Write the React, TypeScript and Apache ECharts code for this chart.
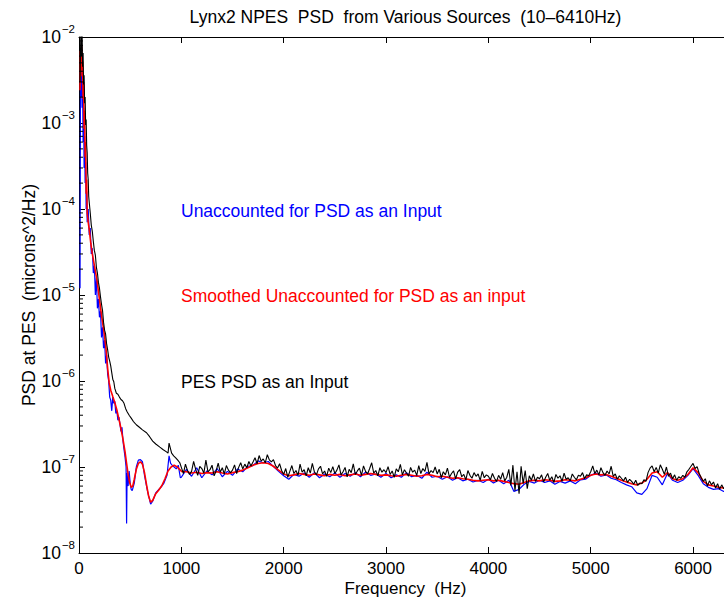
import React, { useEffect, useRef } from "react";
import * as echarts from "echarts";

// ---------- texts ----------
const titleText = "Lynx2 NPES  PSD  from Various Sources  (10\u20136410Hz)";
const xAxisTitle = "Frequency  (Hz)";
const yAxisTitle = "PSD at PES  (microns^2/Hz)";
const blueLabel = "Unaccounted for PSD as an Input";
const redLabel = "Smoothed Unaccounted for PSD as an input";
const blackLabel = "PES PSD as an Input";

// ---------- axes ----------
const xMin = 0;
const xMax = 6410;
const xInterval = 1000;
const yMin = 1e-8;
const yMax = 1e-2;
const minorMultipliers = [2, 3, 4, 5, 6, 7, 8, 9];
const minorDecades = [-8, -7, -6, -5, -4, -3];

// ---------- low-frequency part [Hz, microns^2/Hz] ----------
const blueLow: [number, number][] = [
  [10, 1.2e-5], [15, 4.5e-3], [20, 2.0e-3], [25, 5.0e-3], [30, 1.5e-3], [35, 3.0e-3],
  [40, 6.0e-4], [45, 1.5e-3], [50, 3.0e-4], [55, 7.0e-4], [60, 2.0e-4], [65, 3.5e-4],
  [70, 1.0e-4], [75, 1.6e-4], [80, 7.0e-5], [90, 1.0e-4], [100, 5.0e-5], [110, 6.0e-5],
  [120, 3.0e-5], [130, 3.5e-5], [140, 1.8e-5], [150, 2.2e-5], [160, 1.0e-5], [170, 1.6e-5],
  [180, 7.0e-6], [190, 9.0e-6], [200, 5.5e-6], [210, 6.5e-6], [220, 3.2e-6], [230, 4.2e-6],
  [240, 2.4e-6], [250, 3.0e-6], [260, 1.6e-6], [270, 2.0e-6], [280, 1.2e-6], [290, 1.0e-6],
  [300, 6.5e-7], [310, 6.0e-7], [320, 4.5e-7], [330, 6.5e-7], [340, 5.5e-7], [350, 5.8e-7],
  [360, 4.2e-7], [370, 4.5e-7], [380, 3.5e-7], [390, 3.8e-7], [400, 3.2e-7], [410, 2.6e-7],
  [420, 2.9e-7], [430, 2.0e-7], [440, 1.6e-7], [450, 1.3e-7], [460, 1.0e-7], [465, 2.2e-8],
  [470, 8.5e-8], [480, 6.0e-8], [490, 9.0e-8], [500, 6.5e-8], [510, 5.5e-8], [520, 5.3e-8],
  [540, 6.5e-8], [560, 1.0e-7], [580, 1.2e-7], [600, 1.22e-7], [620, 1.15e-7], [640, 8.0e-8],
  [670, 5.2e-8], [700, 3.7e-8], [720, 4.0e-8], [750, 5.0e-8], [780, 5.5e-8], [800, 5.8e-8],
  [830, 6.5e-8], [860, 8.0e-8], [880, 1.35e-7], [895, 1.1e-7], [910, 1.05e-7], [930, 1.0e-7],
  [950, 9.5e-8], [970, 1.05e-7], [990, 7.5e-8],
];

const redLow: [number, number][] = [
  [10, 2.4e-3], [15, 7.0e-3], [20, 5.0e-3], [25, 8.0e-3], [30, 3.5e-3], [35, 5.2e-3],
  [40, 1.9e-3], [45, 3.0e-3], [50, 8.5e-4], [55, 1.4e-3], [60, 4.0e-4], [65, 6.0e-4],
  [70, 1.5e-4], [75, 2.2e-4], [80, 9.0e-5], [90, 7.0e-5], [100, 5.8e-5], [115, 4.0e-5],
  [130, 3.0e-5], [145, 2.4e-5], [160, 1.9e-5], [175, 1.5e-5], [190, 1.1e-5], [205, 8.0e-6],
  [220, 5.8e-6], [235, 4.4e-6], [250, 3.3e-6], [265, 2.3e-6], [280, 1.4e-6], [295, 9.5e-7],
  [310, 7.8e-7], [330, 6.6e-7], [350, 5.6e-7], [370, 4.6e-7], [390, 3.6e-7], [410, 2.8e-7],
  [430, 2.1e-7], [450, 1.5e-7], [465, 1.1e-7], [480, 8.2e-8], [495, 6.6e-8], [510, 5.8e-8],
  [525, 6.0e-8], [540, 7.2e-8], [560, 9.4e-8], [580, 1.1e-7], [600, 1.15e-7], [620, 1.08e-7],
  [640, 8.6e-8], [660, 6.2e-8], [680, 4.6e-8], [700, 3.9e-8], [720, 4.1e-8], [750, 4.9e-8],
  [780, 5.4e-8], [810, 6.1e-8], [840, 7.3e-8], [870, 9.0e-8], [900, 1.0e-7], [930, 1.05e-7],
  [960, 1.0e-7], [990, 9.2e-8],
];

const blackLow: [number, number][] = [
  [10, 3.0e-3], [15, 7.0e-3], [20, 1.4e-2], [25, 6.0e-3], [30, 1.2e-2], [35, 4.5e-3],
  [40, 6.5e-3], [45, 2.8e-3], [50, 3.6e-3], [55, 1.7e-3], [60, 2.0e-3], [65, 9.5e-4],
  [70, 1.1e-3], [75, 5.5e-4], [80, 4.5e-4], [85, 2.6e-4], [90, 2.2e-4], [95, 1.4e-4],
  [100, 1.2e-4], [110, 9.0e-5], [120, 6.5e-5], [130, 5.5e-5], [140, 4.2e-5], [150, 3.3e-5],
  [160, 2.9e-5], [170, 2.1e-5], [180, 1.8e-5], [190, 1.4e-5], [200, 1.2e-5], [210, 9.5e-6],
  [220, 7.8e-6], [230, 6.6e-6], [240, 4.8e-6], [250, 3.9e-6], [260, 3.5e-6], [270, 2.7e-6],
  [280, 2.3e-6], [290, 1.9e-6], [300, 1.7e-6], [310, 1.5e-6], [320, 1.25e-6], [330, 1.05e-6],
  [340, 9.8e-7], [350, 8.2e-7], [365, 7.2e-7], [380, 7.0e-7], [395, 6.5e-7], [410, 6.1e-7],
  [425, 5.9e-7], [440, 5.5e-7], [455, 4.8e-7], [470, 4.4e-7], [490, 4.0e-7], [510, 3.7e-7],
  [530, 3.4e-7], [560, 3.1e-7], [590, 2.9e-7], [620, 2.7e-7], [660, 2.5e-7], [690, 2.25e-7],
  [720, 2.0e-7], [750, 1.85e-7], [790, 1.7e-7], [820, 1.6e-7], [855, 1.5e-7], [870, 1.45e-7],
  [880, 1.9e-7], [890, 1.7e-7], [905, 1.45e-7], [925, 1.35e-7], [945, 1.28e-7], [965, 1.2e-7],
  [985, 1.12e-7],
];

// ---------- noise-floor part, sampled from 1000 Hz ----------
const floorStartHz = 1000;
const blueRedStepHz = 50; // one row = 500 Hz (10 values)
const blackStepHz = 20; // one row = 500 Hz (25 values)

const redFloor = [
  8.9e-8, 8.8e-8, 8.5e-8, 8.7e-8, 8.4e-8, 8.6e-8, 8.5e-8, 8.8e-8, 8.5e-8, 8.3e-8,
  8.6e-8, 8.8e-8, 9.2e-8, 9.8e-8, 10.5e-8, 11.0e-8, 11.2e-8, 11.0e-8, 10.2e-8, 9.2e-8,
  8.3e-8, 7.9e-8, 8.1e-8, 8.4e-8, 8.2e-8, 8.0e-8, 8.3e-8, 8.1e-8, 7.9e-8, 8.2e-8,
  8.0e-8, 8.2e-8, 7.9e-8, 8.1e-8, 8.3e-8, 8.0e-8, 8.2e-8, 8.4e-8, 8.2e-8, 8.0e-8,
  8.1e-8, 7.9e-8, 7.8e-8, 8.0e-8, 8.2e-8, 8.0e-8, 7.8e-8, 7.9e-8, 8.2e-8, 8.0e-8,
  7.7e-8, 7.8e-8, 7.6e-8, 7.4e-8, 7.5e-8, 7.3e-8, 7.2e-8, 7.0e-8, 6.9e-8, 7.0e-8,
  7.1e-8, 6.9e-8, 7.0e-8, 6.8e-8, 6.6e-8, 6.4e-8, 6.3e-8, 6.6e-8, 6.9e-8, 7.0e-8,
  6.9e-8, 7.1e-8, 7.0e-8, 6.8e-8, 6.9e-8, 7.1e-8, 7.0e-8, 6.9e-8, 7.2e-8, 7.5e-8,
  8.0e-8, 8.3e-8, 8.1e-8, 8.2e-8, 7.8e-8, 7.4e-8, 7.0e-8, 6.7e-8, 6.4e-8, 6.2e-8,
  6.5e-8, 7.2e-8, 8.5e-8, 8.8e-8, 7.6e-8, 8.6e-8, 7.3e-8, 7.0e-8, 7.3e-8, 8.2e-8,
  9.8e-8, 8.6e-8, 6.8e-8, 6.2e-8, 6.0e-8, 5.8e-8, 5.7e-8, 5.5e-8, 5.4e-8,
];

const blueFloor = [
  7.6e-8, 9.4e-8, 7.8e-8, 9.8e-8, 7.5e-8, 9.0e-8, 8.1e-8, 9.6e-8, 7.7e-8, 8.9e-8,
  8.0e-8, 9.5e-8, 8.8e-8, 10.2e-8, 10.4e-8, 11.8e-8, 11.2e-8, 11.6e-8, 10.1e-8, 8.9e-8,
  7.9e-8, 7.2e-8, 8.2e-8, 7.8e-8, 8.5e-8, 7.6e-8, 8.6e-8, 7.5e-8, 8.3e-8, 7.7e-8,
  8.5e-8, 7.6e-8, 8.4e-8, 7.8e-8, 8.6e-8, 7.7e-8, 8.7e-8, 8.0e-8, 8.3e-8, 7.6e-8,
  8.4e-8, 7.5e-8, 8.1e-8, 7.6e-8, 8.6e-8, 7.7e-8, 8.0e-8, 7.4e-8, 8.7e-8, 7.6e-8,
  7.8e-8, 7.2e-8, 7.7e-8, 7.0e-8, 7.5e-8, 6.9e-8, 7.2e-8, 6.7e-8, 7.0e-8, 6.6e-8,
  7.2e-8, 6.5e-8, 7.0e-8, 6.4e-8, 7.0e-8, 5.2e-8, 5.5e-8, 6.3e-8, 6.8e-8, 6.5e-8,
  7.0e-8, 6.6e-8, 6.9e-8, 6.3e-8, 6.8e-8, 6.5e-8, 6.9e-8, 6.4e-8, 7.1e-8, 7.2e-8,
  8.0e-8, 8.5e-8, 7.8e-8, 8.1e-8, 7.4e-8, 7.1e-8, 6.6e-8, 6.2e-8, 5.9e-8, 5.0e-8,
  4.8e-8, 5.6e-8, 8.0e-8, 7.6e-8, 6.2e-8, 8.4e-8, 7.0e-8, 6.6e-8, 7.0e-8, 8.0e-8,
  9.6e-8, 8.0e-8, 6.4e-8, 5.8e-8, 5.5e-8, 5.6e-8, 5.2e-8, 5.3e-8, 5.1e-8,
];

const blackFloor = [
  // 1000-1480
  9.9e-8, 8.4e-8, 10.8e-8, 9.1e-8, 8.2e-8, 8.9e-8, 11.6e-8, 9.4e-8, 8.0e-8, 10.2e-8,
  9.6e-8, 8.5e-8, 12.0e-8, 8.8e-8, 9.3e-8, 10.5e-8, 7.9e-8, 9.0e-8, 11.1e-8, 8.7e-8,
  9.8e-8, 8.3e-8, 10.4e-8, 9.2e-8, 8.6e-8,
  // 1500-1980
  9.2e-8, 10.6e-8, 8.4e-8, 9.9e-8, 11.2e-8, 9.5e-8, 10.8e-8, 9.8e-8, 11.6e-8, 10.3e-8,
  11.4e-8, 12.8e-8, 10.9e-8, 13.6e-8, 11.7e-8, 12.4e-8, 11.2e-8, 13.9e-8, 12.1e-8, 11.5e-8,
  12.2e-8, 10.4e-8, 9.7e-8, 10.9e-8, 9.1e-8,
  // 2000-2480
  8.2e-8, 9.6e-8, 7.6e-8, 8.9e-8, 10.4e-8, 8.4e-8, 9.1e-8, 8.0e-8, 10.8e-8, 8.7e-8,
  9.3e-8, 7.9e-8, 9.8e-8, 8.5e-8, 11.0e-8, 8.8e-8, 8.1e-8, 9.5e-8, 10.2e-8, 8.3e-8,
  9.0e-8, 7.8e-8, 9.7e-8, 8.6e-8, 10.1e-8,
  // 2500-2980
  8.4e-8, 9.2e-8, 10.6e-8, 8.1e-8, 8.8e-8, 9.9e-8, 7.7e-8, 9.4e-8, 8.6e-8, 10.9e-8,
  8.2e-8, 9.0e-8, 9.7e-8, 8.0e-8, 10.3e-8, 8.9e-8, 8.3e-8, 9.6e-8, 11.2e-8, 8.5e-8,
  9.1e-8, 7.9e-8, 9.8e-8, 8.7e-8, 9.3e-8,
  // 3000-3480
  8.6e-8, 10.1e-8, 8.2e-8, 9.0e-8, 7.6e-8, 9.5e-8, 8.8e-8, 10.7e-8, 8.1e-8, 9.3e-8,
  8.5e-8, 7.8e-8, 9.9e-8, 8.7e-8, 9.2e-8, 8.0e-8, 10.4e-8, 8.4e-8, 9.6e-8, 8.9e-8,
  11.3e-8, 8.3e-8, 9.1e-8, 8.6e-8, 10.0e-8,
  // 3500-3980
  8.3e-8, 9.4e-8, 7.5e-8, 8.8e-8, 8.1e-8, 9.7e-8, 7.6e-8, 8.4e-8, 9.0e-8, 7.3e-8,
  8.7e-8, 9.3e-8, 7.7e-8, 8.2e-8, 7.1e-8, 9.1e-8, 8.0e-8, 7.4e-8, 8.6e-8, 7.8e-8,
  8.3e-8, 7.0e-8, 8.9e-8, 7.5e-8, 8.1e-8,
  // 4000-4480
  7.8e-8, 7.1e-8, 8.4e-8, 7.4e-8, 6.8e-8, 8.0e-8, 7.2e-8, 8.6e-8, 6.9e-8, 7.6e-8,
  9.4e-8, 6.1e-8, 10.5e-8, 5.3e-8, 8.8e-8, 4.9e-8, 10.2e-8, 6.4e-8, 9.1e-8, 5.6e-8,
  7.9e-8, 7.0e-8, 8.3e-8, 6.8e-8, 7.6e-8,
  // 4500-4980
  7.3e-8, 8.1e-8, 6.7e-8, 7.6e-8, 8.4e-8, 7.0e-8, 7.7e-8, 6.6e-8, 8.2e-8, 7.4e-8,
  7.9e-8, 6.8e-8, 8.5e-8, 7.2e-8, 7.5e-8, 6.9e-8, 8.3e-8, 7.6e-8, 7.1e-8, 8.0e-8,
  7.8e-8, 8.6e-8, 7.3e-8, 8.1e-8, 7.9e-8,
  // 5000-5480
  8.8e-8, 10.3e-8, 8.4e-8, 9.2e-8, 8.1e-8, 9.8e-8, 8.6e-8, 8.0e-8, 9.0e-8, 8.3e-8,
  10.2e-8, 7.8e-8, 8.3e-8, 7.2e-8, 7.9e-8, 7.4e-8, 6.9e-8, 7.6e-8, 6.6e-8, 7.2e-8,
  6.8e-8, 6.3e-8, 7.0e-8, 6.1e-8, 6.5e-8,
  // 5500-5980
  6.4e-8, 7.1e-8, 6.8e-8, 8.6e-8, 9.7e-8, 10.3e-8, 8.8e-8, 9.9e-8, 8.5e-8, 10.6e-8,
  9.4e-8, 8.2e-8, 10.0e-8, 7.8e-8, 8.5e-8, 7.3e-8, 8.1e-8, 7.0e-8, 7.7e-8, 7.4e-8,
  8.0e-8, 7.6e-8, 8.8e-8, 9.4e-8, 10.2e-8,
  // 6000-6400
  11.0e-8, 9.6e-8, 10.1e-8, 8.4e-8, 7.5e-8, 6.8e-8, 7.3e-8, 6.0e-8, 6.9e-8, 6.2e-8,
  6.7e-8, 5.7e-8, 6.4e-8, 5.5e-8, 6.2e-8, 5.6e-8, 6.0e-8, 5.3e-8, 5.9e-8, 5.5e-8,
  5.7e-8,
];

const FONT = '"Liberation Sans", Arial, Helvetica, sans-serif';
const FS = 17.5;
const FS_X = 17;

function withFloor(low: [number, number][], floor: number[], step: number): [number, number][] {
  return low.concat(floor.map((v, i) => [floorStartHz + i * step, v] as [number, number]));
}

export default function App() {
  const ref = useRef<HTMLDivElement>(null);

  useEffect(() => {
    if (!ref.current) return;
    const chart = echarts.init(ref.current, null, { renderer: "svg" });

    const blueData = withFloor(blueLow, blueFloor, blueRedStepHz);
    const redData = withFloor(redLow, redFloor, blueRedStepHz);
    const blackData = withFloor(blackLow, blackFloor, blackStepHz);
    const minorTickValues: number[] = [];
    minorDecades.forEach((d) => minorMultipliers.forEach((k) => minorTickValues.push(k * Math.pow(10, d))));

    const xAxisCommon = {
      type: "value",
      min: xMin,
      max: xMax,
      interval: xInterval,
      splitLine: { show: false },
      axisLine: { show: true, onZero: false, lineStyle: { color: "#000", width: 1 } },
      axisTick: { show: true, inside: true, length: 6, lineStyle: { color: "#000", width: 1 } },
    };

    const option: any = {
      animation: false,
      backgroundColor: "#ffffff",
      grid: { left: 79, right: -11, top: 37, bottom: 45, show: false, containLabel: false, outerBoundsMode: "none" },
      xAxis: [
        {
          ...xAxisCommon,
          position: "bottom",
          axisLabel: {
            show: true,
            margin: 9,
            color: "#000",
            fontSize: FS_X,
            lineHeight: 13,
            fontFamily: FONT,
            showMaxLabel: false,
            formatter: (v: number) => String(v),
          },
        },
        {
          ...xAxisCommon,
          position: "top",
          axisLabel: { show: false },
        },
      ],
      yAxis: [
        {
          type: "log",
          logBase: 10,
          min: yMin,
          max: yMax,
          splitLine: { show: false },
          minorTick: { show: false },
          axisLine: { show: true, onZero: false, lineStyle: { color: "#000", width: 1 } },
          axisTick: { show: true, inside: true, length: 6, lineStyle: { color: "#000", width: 1 } },
          axisLabel: {
            show: true,
            margin: 4,
            color: "#000",
            fontFamily: FONT,
            formatter: (v: number) => {
              const e = Math.round(Math.log10(v));
              return "{b|10}{s|\u2212" + String(-e) + "}";
            },
            rich: {
              b: { fontSize: FS, lineHeight: 18, fontFamily: FONT, color: "#000" },
              s: { fontSize: 11.5, lineHeight: 12, fontFamily: FONT, color: "#000", padding: [0, 0, 17, 1] },
            },
          },
        },
      ],
      series: [
        {
          type: "line",
          name: "blue",
          data: blueData,
          showSymbol: false,
          symbol: "none",
          silent: true,
          clip: true,
          z: 2,
          lineStyle: { color: "#0000ff", width: 1.2 },
          itemStyle: { color: "#0000ff" },
        },
        {
          type: "line",
          name: "red",
          data: redData,
          showSymbol: false,
          symbol: "none",
          silent: true,
          clip: true,
          z: 3,
          lineStyle: { color: "#ff0000", width: 1.6 },
          itemStyle: { color: "#ff0000" },
        },
        {
          type: "line",
          name: "black",
          data: blackData,
          showSymbol: false,
          symbol: "none",
          silent: true,
          clip: true,
          z: 4,
          lineStyle: { color: "#000000", width: 1.1 },
          itemStyle: { color: "#000000" },
        },
        {
          type: "custom",
          name: "minorTicks",
          silent: true,
          clip: false,
          z: 5,
          data: minorTickValues.map((v) => [xMin, v]),
          encode: { x: 0, y: 1 },
          renderItem: (params: any, api: any) => {
            const p = api.coord([xMin, api.value(1)]);
            return {
              type: "line",
              shape: { x1: p[0], y1: p[1], x2: p[0] + 4, y2: p[1] },
              style: { stroke: "#000", lineWidth: 1 },
            };
          },
        },
      ],
      graphic: [
        {
          type: "text",
          x: 405.5,
          y: 17,
          style: { text: titleText, fontSize: FS, fontFamily: FONT, fill: "#000", align: "center", verticalAlign: "middle" },
        },
        {
          type: "text",
          x: 405.5,
          y: 588.5,
          style: { text: xAxisTitle, fontSize: FS_X, lineHeight: 14, fontFamily: FONT, fill: "#000", align: "center", verticalAlign: "middle" },
        },
        {
          type: "text",
          x: 28.5,
          y: 295,
          rotation: Math.PI / 2,
          style: { text: yAxisTitle, fontSize: FS, fontFamily: FONT, fill: "#000", align: "center", verticalAlign: "middle" },
        },
        {
          type: "text",
          x: 181,
          y: 211,
          style: { text: blueLabel, fontSize: FS, fontFamily: FONT, fill: "#0000ff", align: "left", verticalAlign: "middle" },
        },
        {
          type: "text",
          x: 181,
          y: 296,
          style: { text: redLabel, fontSize: FS, fontFamily: FONT, fill: "#ff0000", align: "left", verticalAlign: "middle" },
        },
        {
          type: "text",
          x: 181,
          y: 382,
          style: { text: blackLabel, fontSize: FS, fontFamily: FONT, fill: "#000000", align: "left", verticalAlign: "middle" },
        },
      ],
    };

    chart.setOption(option);
    return () => chart.dispose();
  }, []);

  return (
    <div
      ref={ref}
      style={{ position: "fixed", left: 0, top: 0, width: 724, height: 598, background: "#fff" }}
    />
  );
}
